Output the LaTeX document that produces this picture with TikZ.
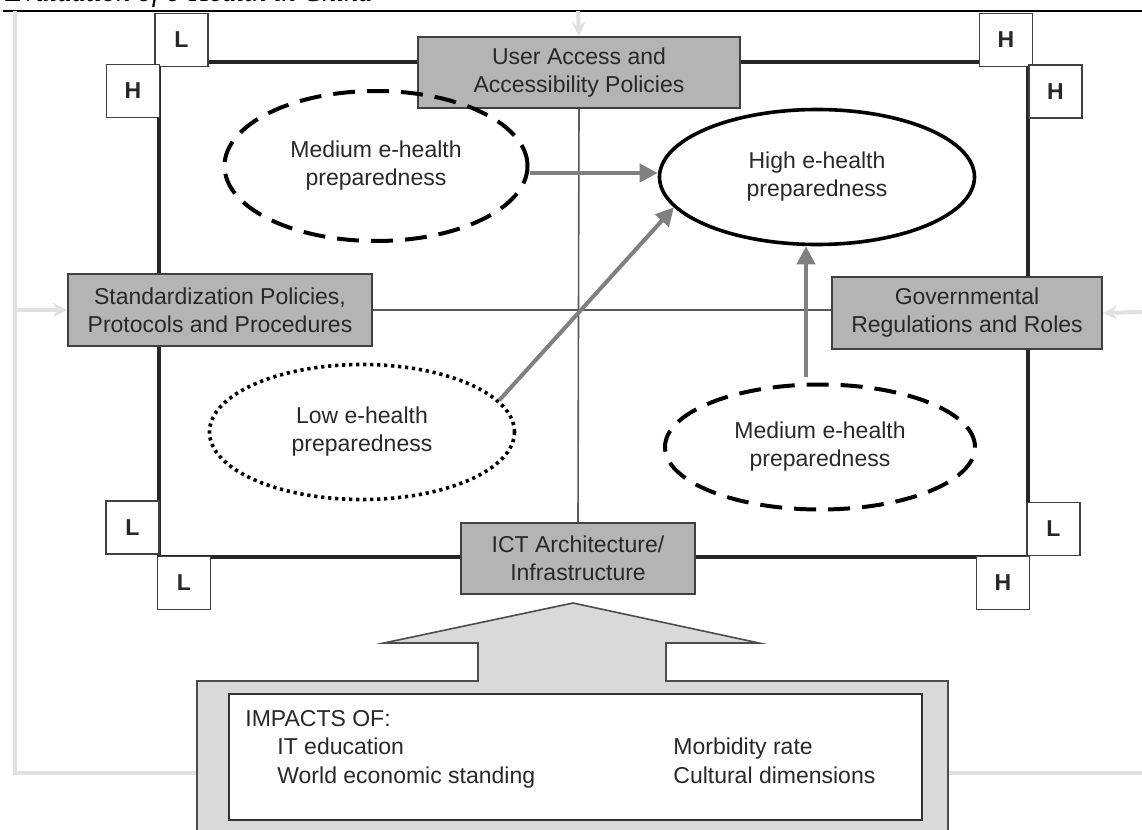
\documentclass[tikz,border=0pt]{standalone}
\usepackage{fontspec}
\setmainfont{Liberation Sans}
\newfontfamily\headfont{Liberation Serif}
\usetikzlibrary{shapes.geometric,arrows.meta}
\definecolor{boxgray}{RGB}{180,180,180}
\definecolor{arrowgray}{RGB}{128,128,128}
\definecolor{fbgray}{RGB}{225,225,225}
\definecolor{bigfill}{RGB}{217,217,217}
\definecolor{txt}{RGB}{40,40,40}
\begin{document}
\begin{tikzpicture}[x=0.5pt,y=-0.5pt,
  every node/.style={font=\fontsize{11.5pt}{14pt}\selectfont, text=txt},
  graybox/.style={draw=black!75, line width=1pt, fill=boxgray, align=center, inner sep=0pt},
  lhbox/.style={draw=black!75, line width=0.9pt, fill=white, minimum width=26.5pt, minimum height=26.5pt, inner sep=0pt, font=\fontsize{11.5pt}{13pt}\selectfont\bfseries},
  ell/.style={ellipse, draw=black, align=center, inner sep=0pt, line width=1.8pt},
  dashell/.style={ell, line width=2pt, dash pattern=on 11pt off 6pt},
  dotell/.style={ell, line width=1.8pt, dash pattern=on 1.6pt off 1.9pt},
  garrow/.style={draw=arrowgray, line width=2pt, -{Triangle[length=9pt,width=9pt]}},
  axisline/.style={draw=black!65, line width=0.8pt},
  fbline/.style={draw=fbgray, line width=2pt},
  fbarrow/.style={fbline, -{Stealth[length=7pt,width=7pt]}},
  txtline/.style={anchor=base west, inner sep=0pt}
]
\useasboundingbox (0,0) rectangle (1142,830);
\clip (0,0) rectangle (1142,830);

% header (cut off at the top edge, as in the source)
\node[anchor=base west, inner sep=0pt, font=\headfont\itshape\fontsize{14.25pt}{16pt}\selectfont, text=black] (head) at (5,2) {Evaluation of e-Health in China};
\draw[line width=0.75pt] (3,11) -- (1142,11);

% feedback coordinates
\coordinate (fbTL) at (15,11);
\coordinate (fbBL) at (15,773);
\coordinate (bbL) at (197,773);
\coordinate (bbR) at (948,773);
\coordinate (fbBR) at (1142,773);
\coordinate (fbLin) at (15,310);
\coordinate (fbRin) at (1142,312);
\coordinate (fbTop) at (578,11);

% feedback lines
\draw[fbline] (fbTL) -- (fbBL) -- (bbL);
\draw[fbline] (bbR) -- (fbBR);

% main rectangle
\draw[draw=black!85, line width=1.6pt] (159,62) rectangle (1028,557);

% gray boxes
\node[graybox, minimum width=161pt, minimum height=35.5pt] (user) at (579,72.5) {User Access and\\Accessibility Policies};
\node[graybox, minimum width=152pt, minimum height=36pt] (std) at (220,310) {Standardization Policies,\\Protocols and Procedures};
\node[graybox, minimum width=135pt, minimum height=36pt] (gov) at (967,313) {Governmental\\Regulations and Roles};
\node[graybox, minimum width=117pt, minimum height=35.5pt] (ict) at (578,558.5) {ICT Architecture/\\Infrastructure};

% axes
\draw[axisline] (user.south) -- (ict.north);
\draw[axisline] (std.east) -- (gov.west |- std.east);

% feedback arrows into boxes
\draw[fbarrow] (fbLin) -- (std.west);
\draw[fbarrow] (fbRin) -- (gov.east);
\draw[fbarrow] (fbTop) -- (user.north);

% L/H boxes
\node[lhbox] (tlL) at (181.5,40) {L};
\node[lhbox] (tlH) at (133,91) {H};
\node[lhbox] (trH) at (1006,40) {H};
\node[lhbox] (trH2) at (1055.5,91.5) {H};
\node[lhbox] (blL1) at (132.5,527.5) {L};
\node[lhbox] (blL2) at (184,583) {L};
\node[lhbox] (brL) at (1053.5,529) {L};
\node[lhbox] (brH) at (1003,583) {H};

% ellipses
\node[dashell, minimum width=151.5pt, minimum height=75pt] (medTL) at (376,166) {Medium e-health\\preparedness};
\node[ell, minimum width=157.5pt, minimum height=67.5pt] (high) at (817,177) {High e-health\\preparedness};
\node[dotell, minimum width=152.5pt, minimum height=67.5pt] (low) at (362,432) {Low e-health\\preparedness};
\node[dashell, minimum width=155pt, minimum height=62.5pt] (medBR) at (820,447) {Medium e-health\\preparedness};

% gray arrows
\draw[garrow] ([yshift=-3.5pt]medTL.east) -- ([yshift=2pt]high.west);
\draw[garrow] (low.13) -- (high.192);
\draw[garrow] ([xshift=-7pt,yshift=3pt]medBR.north) -- ([xshift=-5.5pt]high.south);

% big arrow
\draw[draw=black!70, line width=0.8pt, fill=bigfill] (197,840) -- (197,681) -- (478,681) -- (478,643) -- (384,643) -- (573,603) -- (759,643) -- (666,643) -- (666,681) -- (948,681) -- (948,840);
\node[draw=black!80, line width=0.8pt, fill=white, minimum width=346.5pt, minimum height=63pt, inner sep=0pt] (impbox) at (575.5,757) {};
\node[txtline] (imp0) at (245,726) {IMPACTS OF:};
\node[txtline] (imp1) at (277,754) {IT education};
\node[txtline] (imp2) at (277,783) {World economic standing};
\node[txtline] (imp3) at (673,754) {Morbidity rate};
\node[txtline] (imp4) at (673,783) {Cultural dimensions};
\end{tikzpicture}
\end{document}
